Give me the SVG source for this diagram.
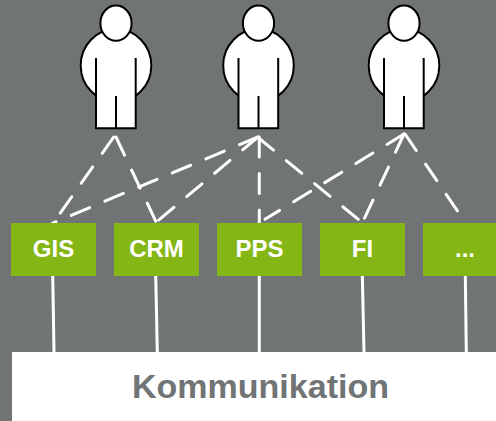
<svg xmlns="http://www.w3.org/2000/svg" width="496" height="421" viewBox="0 0 496 421">
<style>
.bg{fill:#707475}
.sys{fill:#84b616}
.sys-t{font:bold 24px "Liberation Sans",Arial,sans-serif;fill:#fff;text-anchor:middle}
.body{fill:#fff;stroke:#000;stroke-width:2}
.leg{fill:#fff;stroke:none}
.ln{fill:none;stroke:#000;stroke-width:2}
.dash{stroke:#fff;stroke-width:3;stroke-linecap:round;stroke-dasharray:20 16.5;fill:none}
.solid{stroke:#fff;stroke-width:3;fill:none}
</style>
<defs>
<g id="person">
<ellipse class="body" cx="0" cy="65.5" rx="35.3" ry="36.5"/>
<rect class="leg" x="-20" y="58" width="39.7" height="70"/>
<path class="ln" d="M-20 58V128.3H19.7V58M0 96V128.3"/>
<ellipse class="body" cx="0" cy="23.2" rx="15.6" ry="17.6"/>
</g>
</defs>
<rect class="bg" width="496" height="421"/>
<g id="connectors">
<path class="dash" d="M113.7 137L59.3 214.5"/>
<path class="dash" d="M116 137L156 221.7"/>
<path class="dash" d="M258 137L52.3 223.3"/>
<path class="dash" d="M258 137L156.7 221.7"/>
<path class="dash" d="M259.3 137V223"/>
<path class="dash" d="M258 137.5L358.7 219.7"/>
<path class="dash" d="M404 134L265 219.3"/>
<path class="dash" d="M404 134L364 219.3"/>
<path class="dash" d="M405 134L458 211.7"/>
<path class="solid" d="M52.7 274L54 352"/>
<path class="solid" d="M155.7 274L157.3 352"/>
<path class="solid" d="M259.3 274V352"/>
<path class="solid" d="M362.3 274L364 352"/>
<path class="solid" d="M465.3 274L466.3 352"/>
</g>
<g id="user1"><use href="#person" x="116"/></g>
<g id="user2"><use href="#person" x="258.5"/></g>
<g id="user3"><use href="#person" x="404"/></g>
<g id="gis"><rect class="sys" x="11" y="223" width="85" height="53"/><text class="sys-t" x="53.5" y="256.7">GIS</text></g>
<g id="crm"><rect class="sys" x="114" y="223" width="85" height="53"/><text class="sys-t" x="156.5" y="256.7">CRM</text></g>
<g id="pps"><rect class="sys" x="217" y="223" width="85" height="53"/><text class="sys-t" x="259.5" y="256.7">PPS</text></g>
<g id="fi"><rect class="sys" x="320" y="223" width="85" height="53"/><text class="sys-t" x="362.5" y="256.7">FI</text></g>
<g id="more"><rect class="sys" x="423" y="223" width="73" height="53"/><text class="sys-t" x="465" y="256.7">...</text></g>
<g id="kommunikation"><rect x="12" y="352" width="484" height="69" fill="#fff"/><text x="260.5" y="397.7" text-anchor="middle" style="font:bold 34px 'Liberation Sans',Arial,sans-serif;fill:#707475">Kommunikation</text></g>
</svg>
